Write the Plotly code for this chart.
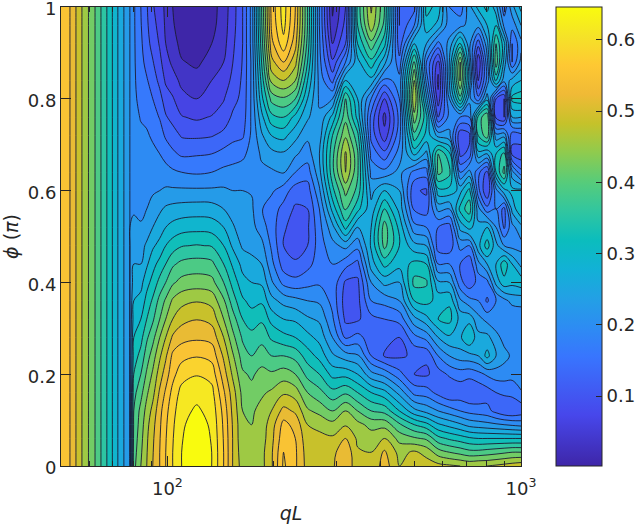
import numpy as np
import plotly.graph_objects as go

qL_stripes = [50, 53, 57.3, 62.4, 67.4, 72.4, 75.8, 78.3]
stripes = [55.5, 53, 47, 41, 35, 29, 25.5, 23]
phi = [0, .03, .06, .09, .12, .16, .2, .24, .28, .32, .36, .4, .44, .48, .52, .56, .6, .64, .68, .72, .76, .8, .84, .88, .92, .96, 1]
qL = [80.3, 84.1, 87.4, 90.9, 95.1, 98.9, 103.5, 109.7, 121, 133.4, 144.2, 152.9, 163.2, 173, 184.6, 196.9, 213, 230, 249, 269,
      293, 319, 345, 377, 411, 453, 499, 540, 583, 627, 673, 714, 757, 802, 850, 896, 944, 1000]
# transmission (percent) along each qL column, from phi=0 to phi=1
columns = [
 [40,39.5,39,38.5,38,37,35,33.5,32,30.5,29,27.5,26,25,24,22.5,21,20.5,20.5,20.5,20.5,20.5,20.5,20.5,20.5,20.5,20.5],
 [44,43.5,43,42.5,42,40,38,36,34,32,30,28,26,25,23.5,22,21.5,21,20.7,20.3,19.9,19.3,18.6,18,17.6,17.2,17],
 [47,46.8,46.5,46,45,43.5,41.5,39.5,37.5,35,33,31,28.5,26.5,24.5,23,22,21.5,20.9,20.4,19.3,18.5,17.3,16,15,14.6,14.3],
 [50,49.8,49.5,49,48,46,44.5,42.5,40,37.5,35.5,33,31,28.5,26,24.5,22.5,21.5,20.8,19.5,18.3,17,15.5,14.2,13,12,11.3],
 [53,53,52.8,52.5,52,50.5,48.5,46.5,44,41,39,36,33,30,27.5,25.5,23,21.3,20,18.5,16.8,15,13.2,11.8,10.7,10,9.5],
 [56,56,55.8,55.5,55,53.5,51.5,49.5,47,44,41.5,38,35,32,29,26.5,23.5,21,19,16.5,14.3,12.5,10.5,9.2,8,7.5,7.3],
 [59,59,58.8,58.5,58,57,55,53.7,50.5,47,44.5,40.5,37.5,33.5,30,27,23.5,20.5,17.6,15.3,13,11.3,9.3,7.3,6,5.3,5],
 [62,62,61.8,61.5,61,60,57.8,55,52,49,46,42,38.8,34.8,30.7,27.3,23.5,20,16.5,13.7,11.2,9,7.2,5.2,4.2,3.6,3.3],
 [64.5,64.3,64,63.5,62.5,61,58.8,55.8,52.5,49.9,46.8,42.5,39.3,35.2,31,27.5,23.5,19.6,16.7,13.5,10.5,8,6,4.5,3.5,2.5,2],
 [62,62,61.8,61.5,61,60,57.8,55,52,49,46,42,38.8,34.8,30.7,27.3,23.5,20,17,13.8,11.2,9,8,6,5,4,3.7],
 [56,56,55.8,55.5,55,53.5,51.5,49.5,47,44,41.5,38,35,32,29,26,23.5,20.8,18,14.8,12.3,10.8,9.2,8,7,6.7,6.5],
 [50,50,50,49.8,49.3,48.5,46.5,44.5,42,39.5,36.5,34,31.5,28.5,26.5,24.5,23,21,18.7,16,14.5,13,11.8,10.9,10.3,9.7,9.5],
 [45.5,45,44.5,44.5,44,43,41.5,39.5,37.5,35,32.5,30,28,25.5,24,23.5,23,21,19.5,16.5,15.3,14.8,14.5,14.2,14,14,14],
 [45.5,45,44.5,44,43.5,42,40.5,38,36,33.5,31,29,27,25,24,23.5,22.8,21.5,20.8,20.6,20.5,20.5,20.5,20.5,21,21,21],
 [46,46,45.5,45.3,45,43.5,42,39.5,37,34.5,31.5,28.5,26,24,21.5,20.2,21.5,22.3,23.5,25.5,28,31,33,35,36.5,37.5,38],
 [49.5,49.5,49,48.5,47,44.5,41.5,38,34.5,31,27,23.5,21,19.5,18.5,18.5,20.5,22.5,25,29,34,39,45,49,52,53.5,54],
 [56.5,56,55,54,51,46.5,42.5,38,33,29,25,19,15.5,14,14.5,16,18.5,23.3,25.5,30,35,40.5,47,53,58,60,60.5],
 [53.5,53.5,53,52,49.5,45.5,41,37,32,28.5,24,18,14.5,12.5,12.5,13.5,15.5,20,23.5,27,31,38,44,48,51,52.5,53],
 [48.8,48.5,48,47,44.5,41,37,33.5,30,26.5,23,19,16,14,13.5,14,15.5,18.5,21.5,23.7,26.5,29,32,35,37,38,38],
 [48,47.8,47.5,46.5,43,39,35,31,28,25.5,22.5,19.5,18.5,18.5,19,20,22.5,25,26,24.5,23.5,22.5,22,21,20.5,20,20],
 [49.5,49,47.5,45,41,36,31,26.5,23,20.5,19,19,20,22,25,30,34,37,37,35,30,23,16,11.5,8,5.5,4.5],
 [53,52.5,50,46.7,44,37.5,31,24.5,16.5,13.3,12.5,13.5,18,24,33,38.5,42,47,47.5,43.5,40,38,29,20,14,12,11],
 [47.5,47.3,46.5,45,41,35,29,23.5,18,13.5,13,13.3,16,21,26,33,37,38.5,38.5,36,31,29,27,28,32,35,36],
 [47.5,47,45.5,43,38,32,24,17,15.5,16,20,23,27.5,29.5,29,27,25,22,19,16,16,20,28,34,40,46,47.5],
 [51.5,50.5,47,43,37,30,22,13.7,15,17,21,27,33,39,39.5,35,29,21,15,9,7,11,19,27,33,37,38],
 [47,46,43,38.5,32,25,18,13.5,13.9,18,23,26,30,32,31,28,26,24,21.5,19,18,20,21,18,15,14,14],
 [50,47.5,41.5,35,27,19,14,14.5,19,25,32,36,33,27,21,16.5,14.5,19,30,37,43,47,44,39,29,20,16],
 [48.5,46,40.5,33,25,18.5,13.5,14.5,21,28,33,35.5,32,26,20,15.5,13.5,18.5,25,31,33,27,22,20,26,31,33],
 [48,42.5,36,29.5,23,16,15.5,20,26,32,31,26.5,20,15.5,17,24,31,39,38,25,14,9,7,10,19,28,31],
 [47.5,41,34.5,28,21.5,14,17.5,23,28.5,33,31.5,26,20,15,15.5,23,31,36,33,24,21,23,26,26,24,21,20],
 [47,40,33.5,26.5,20,14.8,18.5,24.5,28.5,28,23.5,18,17,21,27,33,28,20,13,11.5,20,37,44.5,44,33,22,18],
 [46.5,39,32.5,25,19,14,18,25,32,28,21,15,14.5,20,30,37,33,24,15,13,20,24,28,26,24,24,25],
 [47,39,32,24.5,18.5,14.5,19,26,27,24,20,18,22,28,27,24,18,18,28,35,36,18,10.5,8,15,24,30],
 [47,39.5,32,24,18,15.5,20.5,30,27,22,16.5,19,26,33.5,29,18,11,13,26,40,41,28,21,22,25,29,33],
 [47.5,40,32,23.5,16,17,21.5,26,24,21,20,27,29,27,23,20,22,32,32,24,13,14,33,40,38,32,27],
 [48,40.5,32,23,14.5,17.5,21.5,24,22,20.5,22,31,34,23,16.5,16,28,39,36,25,11,11,24,28,30,22,18],
 [48.5,41,32,22.5,14,18,21,22.5,21,20,24,30,29,22,22,27,30,24,13,15,26,33,27,17,17,21,25],
 [49,41,32,22,15,19.5,23,21,20.5,21,24,31,25,22,25,32,30,18,12,16,26,34,29,24,22,26,30],
]
cbar_ticks = [0.1, 0.2, 0.3, 0.4, 0.5, 0.6]
x_minor = [50, 60, 70, 80, 90, 200, 300, 400, 500, 600, 700, 800, 900]

parula = [[0, "rgb(62,38,168)"], [.111, "rgb(71,71,235)"], [.238, "rgb(56,117,254)"], [.302, "rgb(45,140,243)"],
          [.365, "rgb(35,160,229)"], [.4286, "rgb(18,177,214)"], [.492, "rgb(11,189,189)"], [.556, "rgb(49,198,159)"],
          [.619, "rgb(87,204,122)"], [.683, "rgb(143,203,78)"], [.746, "rgb(197,194,42)"], [.81, "rgb(240,186,54)"],
          [.873, "rgb(254,200,51)"], [.937, "rgb(245,227,39)"], [1, "rgb(249,251,14)"]]

x = qL_stripes + qL
z = np.array([[s] * len(phi) for s in stripes] + columns, dtype=float).T / 100
ink = "#262626"
font = dict(family="DejaVu Sans", size=18, color=ink)
title_font = dict(family="DejaVu Sans", size=19, color=ink)

fig = go.Figure()
fig.add_trace(go.Heatmap(x=x, y=phi, z=z, zmin=0.002, zmax=0.646, colorscale=parula, hoverinfo="skip",
    colorbar=dict(x=1.076, xanchor="left", y=0, yanchor="bottom", len=1, ypad=0, xpad=0, thickness=46, thicknessmode="pixels",
                  tickvals=cbar_ticks, ticktext=[str(t) for t in cbar_ticks], ticks="inside", ticklen=6, tickcolor=ink,
                  outlinecolor=ink, outlinewidth=1, tickfont=font, ticklabeloverflow="allow")))
fig.add_trace(go.Contour(x=x, y=phi, z=z, zmin=0.002, zmax=0.646, zauto=False, colorscale=parula, showscale=False,
    contours=dict(start=0.05, end=0.62, size=0.03, coloring="fill", showlines=True),
    line=dict(color="#1b1b33", width=0.9, smoothing=1), hoverinfo="skip"))
fig.update_layout(width=640, height=526, autosize=False, margin=dict(l=61, r=119, t=7, b=60, autoexpand=False),
    paper_bgcolor="white", plot_bgcolor="white", font=font, showlegend=False,
    xaxis=dict(type="log", range=[np.log10(50), 3], tickvals=[100, 1000], ticktext=["10<sup>2</sup>", "10<sup>3</sup>"],
               ticks="inside", ticklen=10, tickcolor=ink, showgrid=False, zeroline=False, showline=True, linecolor=ink,
               linewidth=1, mirror="ticks", minor=dict(tickvals=x_minor, ticks="inside", ticklen=5, tickcolor=ink, showgrid=False),
               title=dict(text="<i>qL</i>", standoff=9, font=title_font), tickfont=font, ticklabelstandoff=6, ticklabeloverflow="allow"),
    yaxis=dict(range=[0, 1], tickvals=[0, .2, .4, .6, .8, 1], ticktext=["0", "0.2", "0.4", "0.6", "0.8", "1"], ticks="inside",
               ticklen=10, tickcolor=ink, showgrid=False, zeroline=False, showline=True, linecolor=ink, linewidth=1, mirror="ticks",
               title=dict(text="<i>ϕ</i> (<i>π</i>)", standoff=8, font=title_font), tickfont=font, ticklabeloverflow="allow", ticklabelshift=2))
fig.write_html("out.html", config={"displayModeBar": False}, post_script="document.body.style.margin='0';")
